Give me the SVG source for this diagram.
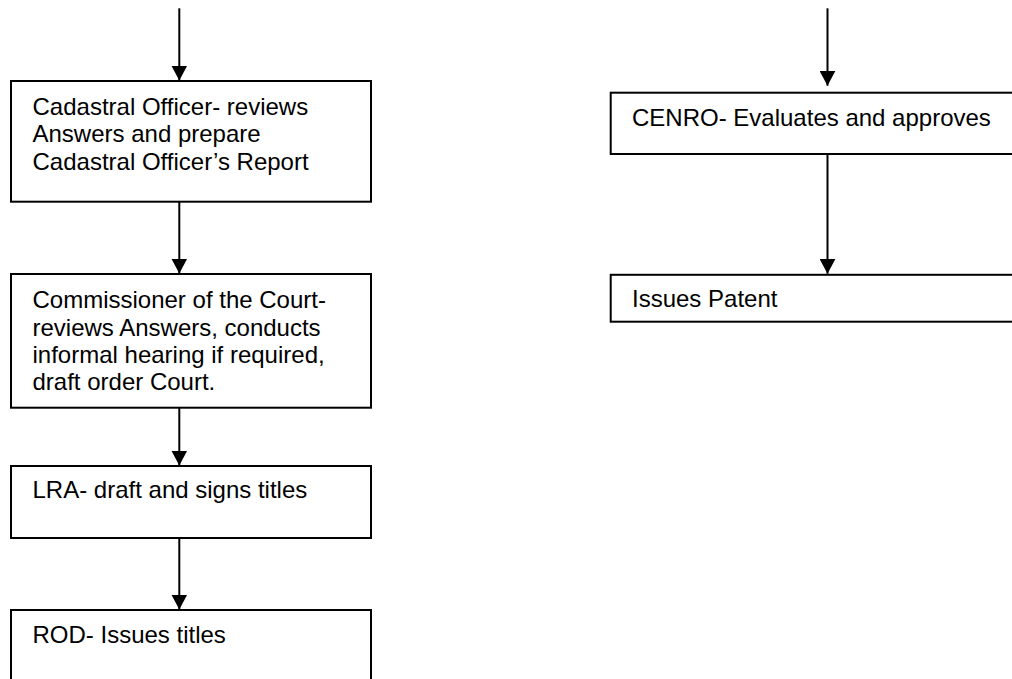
<svg xmlns="http://www.w3.org/2000/svg" width="1012" height="679" viewBox="0 0 1012 679">
  <style>
    .box { fill: #ffffff; stroke: #000000; stroke-width: 2; }
    .lbl { font-family: "Liberation Sans", Arial, sans-serif; font-size: 24px; fill: #000000; }
    .conn { stroke: #000000; stroke-width: 2; fill: none; }
  </style>
  <defs>
    <marker id="arr" viewBox="0 0 15 16" refX="15" refY="8" markerWidth="15" markerHeight="16" markerUnits="userSpaceOnUse" orient="auto">
      <path d="M0,0 L15,8 L0,16 Z" fill="#000000"/>
    </marker>
  </defs>
  <rect width="1012" height="679" fill="#ffffff"/>

  <g id="connectors">
    <path class="conn" d="M179.3,8.3 L179.3,80.5" marker-end="url(#arr)"/>
    <path class="conn" d="M179.3,201.7 L179.3,273.5" marker-end="url(#arr)"/>
    <path class="conn" d="M179.3,407.7 L179.3,465.5" marker-end="url(#arr)"/>
    <path class="conn" d="M179.3,537.7 L179.3,609.5" marker-end="url(#arr)"/>
    <path class="conn" d="M827.5,8.3 L827.5,85.7" marker-end="url(#arr)"/>
    <path class="conn" d="M827.5,154 L827.5,273.8" marker-end="url(#arr)"/>
  </g>

  <g id="node-cadastral">
    <rect class="box" x="11" y="81" width="360" height="120.7"/>
    <text class="lbl" x="32.5" y="114.5">Cadastral Officer- reviews</text>
    <text class="lbl" x="32.5" y="142">Answers and prepare</text>
    <text class="lbl" x="32.5" y="169.5">Cadastral Officer’s Report</text>
  </g>

  <g id="node-commissioner">
    <rect class="box" x="11" y="274" width="360" height="133.7"/>
    <text class="lbl" x="32.5" y="308.3">Commissioner of the Court-</text>
    <text class="lbl" x="32.5" y="335.6">reviews Answers, conducts</text>
    <text class="lbl" x="32.5" y="362.9">informal hearing if required,</text>
    <text class="lbl" x="32.5" y="390.2">draft order Court.</text>
  </g>

  <g id="node-lra">
    <rect class="box" x="11" y="466" width="360" height="72"/>
    <text class="lbl" x="32.5" y="498.3">LRA- draft and signs titles</text>
  </g>

  <g id="node-rod">
    <rect class="box" x="11" y="610" width="360" height="90"/>
    <text class="lbl" x="32.5" y="642.7">ROD- Issues titles</text>
  </g>

  <g id="node-cenro">
    <rect class="box" x="610.7" y="92.7" width="420" height="61.3"/>
    <text class="lbl" x="632" y="126">CENRO- Evaluates and approves</text>
  </g>

  <g id="node-patent">
    <rect class="box" x="610.7" y="274.8" width="420" height="46.9"/>
    <text class="lbl" x="632" y="306.7">Issues Patent</text>
  </g>
</svg>
